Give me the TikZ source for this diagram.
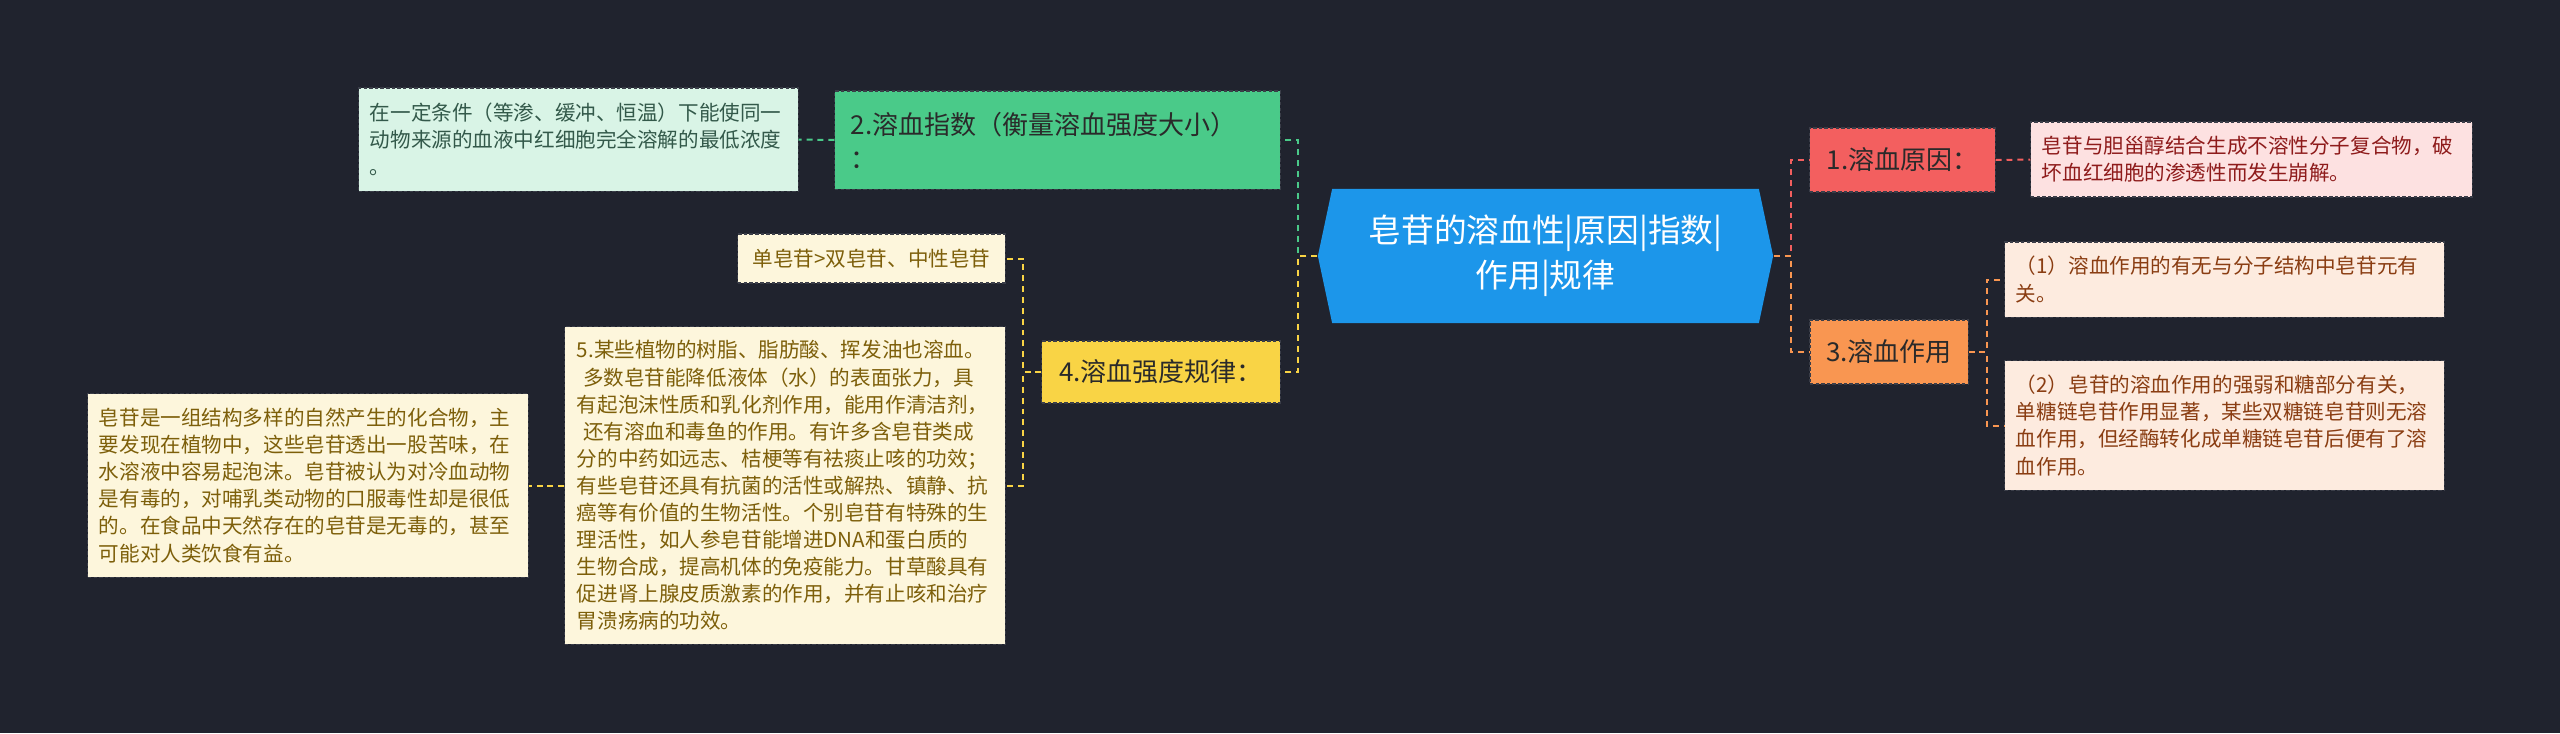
\documentclass[tikz,border=0pt]{standalone}
\usepackage{fontspec}
\setmainfont{Noto Sans CJK SC}
\usetikzlibrary{shapes.symbols}
\definecolor{bg}{HTML}{20232E}
\definecolor{edge}{HTML}{3A3D48}
\definecolor{ink}{HTML}{2A2A2A}
\definecolor{cBlue}{HTML}{1C96EA}
\definecolor{cGreen}{HTML}{4ACA89}
\definecolor{cYellow}{HTML}{F9D445}
\definecolor{cRed}{HTML}{F35F5F}
\definecolor{cOrange}{HTML}{F99651}
\definecolor{lGreen}{HTML}{D9F4E6}
\definecolor{lYellow}{HTML}{FDF6DC}
\definecolor{lRed}{HTML}{FDE1E1}
\definecolor{lOrange}{HTML}{FDEBDF}
\definecolor{tGreen}{HTML}{33594A}
\definecolor{tYellow}{HTML}{7D5F0A}
\definecolor{tRed}{HTML}{8E1B1B}
\definecolor{tOrange}{HTML}{8A3D12}
\begin{document}
\begin{tikzpicture}[x=0.01cm, y=-0.01cm,
  box/.style={rectangle, draw=edge, line width=0.3pt, dash pattern=on 1pt off 0.6pt, inner ysep=0pt, align=left},
  topic/.style={box, text=ink, font=\fontsize{7.4pt}{9.7pt}\selectfont, inner xsep=0.16cm, minimum height=0.64cm},
  leaf/.style={box, font=\fontsize{5.85pt}{7.7pt}\selectfont, inner xsep=0.11cm},
  link/.style={line width=0.57pt, dash pattern=on 1.7pt off 1.4pt}]
  \useasboundingbox (0,0) rectangle (2560,733);
  \fill[bg] (0,0) rectangle (2560,733);

  % centre
  \node[signal, signal to=east and west, signal pointer angle=156, fill=cBlue, text=white,
    minimum width=4.55cm, minimum height=1.34cm, align=center,
    font=\fontsize{9.3pt}{12.8pt}\selectfont] (root) at (1545.5,256) {皂苷的溶血性|原因|指数|\\作用|规律};

  % left side
  \node[topic, fill=cGreen, text width=4.13cm, minimum height=0.98cm] (idx) at (1057.5,140)
    {2.溶血指数（衡量溶血强度大小）\\：};
  \node[leaf, fill=lGreen, text=tGreen, text width=4.17cm, minimum height=1.03cm] (idxdef) at (578.5,139.5)
    {在一定条件（等渗、缓冲、恒温）下能使同一\\动物来源的血液中红细胞完全溶解的最低浓度\\。};
  \node[topic, fill=cYellow, minimum width=2.38cm, minimum height=0.62cm] (rule) at (1161,372) {4.溶血强度规律：};
  \node[leaf, fill=lYellow, text=tYellow, minimum width=2.67cm, minimum height=0.49cm] (ruleA) at (871.5,258.5)
    {单皂苷>双皂苷、中性皂苷};
  \node[leaf, fill=lYellow, text=tYellow, text width=4.16cm, inner xsep=0.12cm, minimum height=3.17cm] (ruleB) at (785,485.5)
    {5.某些植物的树脂、脂肪酸、挥发油也溶血。\\
     \hspace*{0.3em}多数皂苷能降低液体（水）的表面张力，具\\
     有起泡沫性质和乳化剂作用，能用作清洁剂，\\
     \hspace*{0.3em}还有溶血和毒鱼的作用。有许多含皂苷类成\\
     分的中药如远志、桔梗等有祛痰止咳的功效；\\
     有些皂苷还具有抗菌的活性或解热、镇静、抗\\
     癌等有价值的生物活性。个别皂苷有特殊的生\\
     理活性，如人参皂苷能增进DNA和蛋白质的\\
     生物合成，提高机体的免疫能力。甘草酸具有\\
     促进肾上腺皮质激素的作用，并有止咳和治疗\\
     胃溃疡病的功效。};
  \node[leaf, fill=lYellow, text=tYellow, text width=4.18cm, minimum height=1.83cm] (intro) at (308,485.5)
    {皂苷是一组结构多样的自然产生的化合物，主\\
     要发现在植物中，这些皂苷透出一股苦味，在\\
     水溶液中容易起泡沫。皂苷被认为对冷血动物\\
     是有毒的，对哺乳类动物的口服毒性却是很低\\
     的。在食品中天然存在的皂苷是无毒的，甚至\\
     可能对人类饮食有益。};

  % right side
  \node[topic, fill=cRed, minimum width=1.85cm] (cause) at (1902.5,160) {1.溶血原因：};
  \node[leaf, fill=lRed, text=tRed, text width=4.19cm, minimum height=0.75cm] (causedef) at (2251.5,159.5)
    {皂苷与胆甾醇结合生成不溶性分子复合物，破\\坏血红细胞的渗透性而发生崩解。};
  \node[topic, fill=cOrange, minimum width=1.58cm] (effect) at (1889,352) {3.溶血作用};
  \node[leaf, fill=lOrange, text=tOrange, text width=4.17cm, minimum height=0.75cm] (effA) at (2224.5,279.5)
    {（1）溶血作用的有无与分子结构中皂苷元有\\关。};
  \node[leaf, fill=lOrange, text=tOrange, text width=4.17cm, minimum height=1.29cm] (effB) at (2224.5,425.5)
    {（2）皂苷的溶血作用的强弱和糖部分有关，\\
     单糖链皂苷作用显著，某些双糖链皂苷则无溶\\
     血作用，但经酶转化成单糖链皂苷后便有了溶\\
     血作用。};

  % links
  \draw[link, cGreen] (root.west) -- ++(-19,0) |- (idx.east);
  \draw[link, cYellow] (root.west) -- ++(-19,0) |- (rule.east);
  \draw[link, cRed] (root.east) -- ++(17,0) |- (cause.west);
  \draw[link, cOrange] (root.east) -- ++(17,0) |- (effect.west);
  \draw[link, cGreen] (idx.west) -- (idxdef.east);
  \draw[link, cYellow] (rule.west) -- ++(-18,0) |- (ruleA.east);
  \draw[link, cYellow] (rule.west) -- ++(-18,0) |- (ruleB.east);
  \draw[link, cYellow] (ruleB.west) -- (intro.east);
  \draw[link, cRed] (cause.east) -- (causedef.west);
  \draw[link, cOrange] (effect.east) -- ++(18,0) |- (effA.west);
  \draw[link, cOrange] (effect.east) -- ++(18,0) |- (effB.west);
\end{tikzpicture}
\end{document}
